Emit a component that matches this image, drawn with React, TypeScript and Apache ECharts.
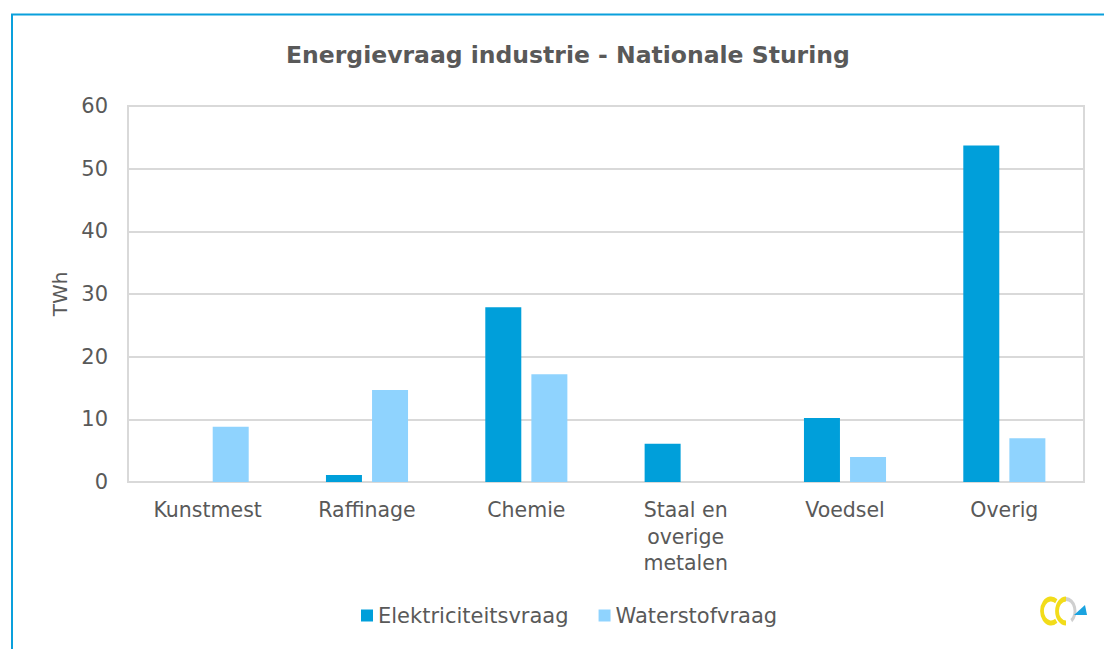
import React, { useEffect, useRef } from "react";
import * as echarts from "echarts";

const categories = ["Kunstmest", "Raffinage", "Chemie", "Staal en\noverige\nmetalen", "Voedsel", "Overig"];
const elektriciteit = [0, 1.1, 27.9, 6.1, 10.2, 53.7];
const waterstof = [8.8, 14.7, 17.2, 0, 4.0, 7.0];
const yTicks = { min: 0, max: 60, interval: 10 };

const FONT = "DejaVu Sans";
const TXT = "#595959";

export default function App() {
  const ref = useRef<HTMLDivElement>(null);
  useEffect(() => {
    document.body.style.margin = "0";
    const chart = echarts.init(ref.current!, null, { renderer: "svg" });
    chart.setOption({
      animation: false,
      backgroundColor: "#ffffff",
      title: {
        text: "Energievraag industrie - Nationale Sturing",
        left: 281,
        top: 38,
        textStyle: { fontFamily: FONT, fontSize: 23.5, fontWeight: "bold", color: TXT },
      },
      grid: {
        left: 128,
        right: 20,
        top: 106,
        bottom: 167,
        show: true,
        borderColor: "#d9d9d9",
        borderWidth: 2,
      },
      legend: {
        bottom: 18,
        left: 356,
        itemWidth: 12,
        itemHeight: 12,
        itemGap: 30,
        icon: "rect",
        textStyle: { fontFamily: FONT, fontSize: 21, color: TXT },
        data: ["Elektriciteitsvraag", "Waterstofvraag"],
      },
      xAxis: {
        type: "category",
        data: categories,
        axisLine: { show: true, lineStyle: { color: "#d9d9d9", width: 2 } },
        axisTick: { show: false },
        axisLabel: {
          fontFamily: FONT,
          fontSize: 20.5,
          color: TXT,
          margin: 15,
          lineHeight: 26.5,
          interval: 0,
        },
      },
      yAxis: {
        type: "value",
        min: yTicks.min,
        max: yTicks.max,
        interval: yTicks.interval,
        name: "TWh",
        nameLocation: "middle",
        nameGap: 58,
        nameRotate: 90,
        nameTextStyle: { fontFamily: FONT, fontSize: 20, color: TXT },
        axisLine: { show: true, lineStyle: { color: "#d9d9d9", width: 2 } },
        axisTick: { show: false },
        axisLabel: { fontFamily: FONT, fontSize: 21, color: TXT, margin: 20 },
        splitLine: { show: true, lineStyle: { color: "#d9d9d9", width: 2 } },
      },
      series: [
        {
          name: "Elektriciteitsvraag",
          type: "bar",
          data: elektriciteit,
          barWidth: 36,
          barGap: "28%",
          itemStyle: { color: "#009fda" },
        },
        {
          name: "Waterstofvraag",
          type: "bar",
          data: waterstof,
          barWidth: 36,
          barGap: "28%",
          itemStyle: { color: "#8fd3fe" },
        },
      ],
      graphic: [
        {
          type: "rect",
          shape: { x: 12, y: 14.5, width: 1200, height: 700 },
          style: { fill: "none", stroke: "#0aa0dc", lineWidth: 2 },
          silent: true,
        },
        {
          type: "group",
          x: 1040,
          y: 595,
          children: [
            {
              type: "arc",
              shape: { cx: 11, cy: 16, r: 12, startAngle: Math.PI * 0.3, endAngle: Math.PI * 1.7 },
              scaleX: 0.75,
              originX: 11,
              originY: 16,
              style: { fill: "none", stroke: "#f2dc1a", lineWidth: 5 },
            },
            {
              type: "arc",
              shape: { cx: 26, cy: 16, r: 12, startAngle: Math.PI * 0.5, endAngle: Math.PI * 1.5 },
              scaleX: 0.75,
              originX: 26,
              originY: 16,
              style: { fill: "none", stroke: "#f2dc1a", lineWidth: 5 },
            },
            {
              type: "arc",
              shape: { cx: 26, cy: 16, r: 12, startAngle: Math.PI * 1.5, endAngle: Math.PI * 2.3 },
              scaleX: 0.75,
              originX: 26,
              originY: 16,
              style: { fill: "none", stroke: "#cfcfcf", lineWidth: 4 },
            },
            {
              type: "polygon",
              shape: { points: [[34, 20], [47, 20], [45, 10]] },
              style: { fill: "#1aa3e0" },
            },
          ],
        },
      ],
    });
    return () => chart.dispose();
  }, []);
  return <div ref={ref} style={{ width: 1104, height: 649 }} />;
}
